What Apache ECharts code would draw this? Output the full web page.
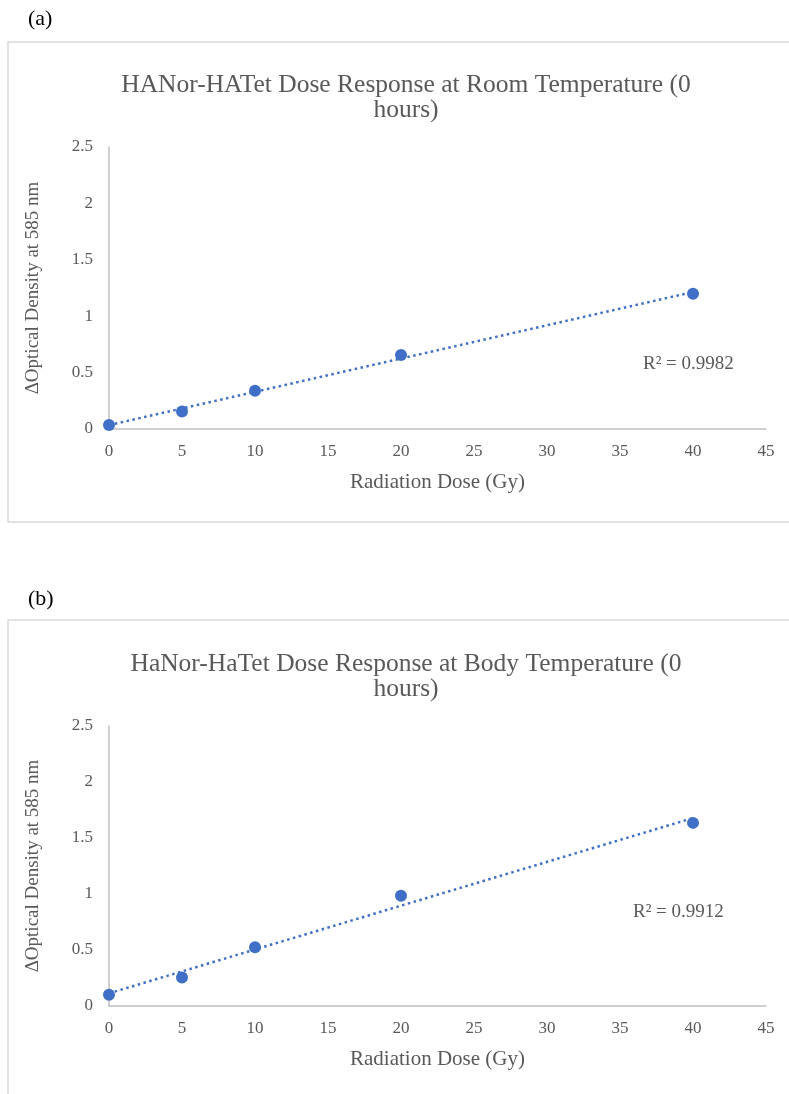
<!DOCTYPE html>
<html>
<head>
<meta charset="utf-8">
<script src="https://cdn.jsdelivr.net/npm/echarts@6/dist/echarts.min.js"></script>
<style>html,body{margin:0;padding:0;background:#fff;}#c{width:789px;height:1094px;}</style>
</head>
<body>
<div id="c"></div>
<script>
// ---- data ----
const doses = [0, 5, 10, 20, 40];
const odRoom = [0.035, 0.155, 0.34, 0.655, 1.2];
const odBody = [0.10, 0.255, 0.525, 0.985, 1.635];
const titleRoom = "HANor-HATet Dose Response at Room Temperature (0\nhours)";
const titleBody = "HaNor-HaTet Dose Response at Body Temperature (0\nhours)";
const r2Room = "R² = 0.9982";
const r2Body = "R² = 0.9912";
const xTicks = [0, 5, 10, 15, 20, 25, 30, 35, 40, 45];
const yTicks = [0, 0.5, 1, 1.5, 2, 2.5];
const xName = "Radiation Dose (Gy)";
const yName = "ΔOptical Density at 585 nm";

function fit(xs, ys) {
  const n = xs.length;
  const mx = xs.reduce((a, b) => a + b, 0) / n;
  const my = ys.reduce((a, b) => a + b, 0) / n;
  let sxy = 0, sxx = 0;
  for (let i = 0; i < n; i++) { sxy += (xs[i] - mx) * (ys[i] - my); sxx += (xs[i] - mx) ** 2; }
  const b = sxy / sxx, a = my - b * mx;
  const x0 = Math.min(...xs), x1 = Math.max(...xs);
  return [[x0, a + b * x0], [x1, a + b * x1]];
}

const FONT = "Liberation Serif";
const GRAY = "#595959";
const BLUE = "#3F6FC6";
const AXC = "#BFBFBF";

function xAxis(gi) {
  return {
    gridIndex: gi, type: 'value', min: xTicks[0], max: xTicks[xTicks.length - 1], interval: 5,
    name: xName, nameLocation: 'middle', nameGap: 43,
    nameTextStyle: { fontFamily: FONT, fontSize: 21, color: GRAY },
    axisLine: { show: true, lineStyle: { color: AXC, width: 1.5 } },
    axisTick: { show: false }, splitLine: { show: false },
    axisLabel: { fontFamily: FONT, fontSize: 17, color: GRAY, margin: 14 }
  };
}
function yAxis(gi) {
  return {
    gridIndex: gi, type: 'value', min: yTicks[0], max: yTicks[yTicks.length - 1], interval: 0.5,
    name: yName, nameLocation: 'middle', nameGap: 66, nameRotate: 90,
    nameTextStyle: { fontFamily: FONT, fontSize: 19, color: GRAY },
    axisLine: { show: true, onZero: false, lineStyle: { color: AXC, width: 1.5 } },
    axisTick: { show: false }, splitLine: { show: false },
    axisLabel: { fontFamily: FONT, fontSize: 17, color: GRAY, margin: 16 }
  };
}
function pts(xs, ys) { return xs.map((x, i) => [x, ys[i]]); }

const chart = echarts.init(document.getElementById('c'), null, { renderer: 'canvas' });
chart.setOption({
  animation: false,
  backgroundColor: '#fff',
  title: [
    { text: titleRoom, left: 401, top: 68, textAlign: 'center',
      textStyle: { fontFamily: FONT, fontSize: 25.5, fontWeight: 'normal', color: GRAY, lineHeight: 25 } },
    { text: titleBody, left: 401, top: 647, textAlign: 'center',
      textStyle: { fontFamily: FONT, fontSize: 25.5, fontWeight: 'normal', color: GRAY, lineHeight: 25 } }
  ],
  grid: [
    { left: 109, top: 147, width: 657, height: 282 },
    { left: 109, top: 726, width: 657, height: 280 }
  ],
  xAxis: [xAxis(0), xAxis(1)],
  yAxis: [yAxis(0), yAxis(1)],
  series: [
    { type: 'line', xAxisIndex: 0, yAxisIndex: 0, data: fit(doses, odRoom), symbol: 'none',
      lineStyle: { color: BLUE, width: 2.5, type: [2.5, 3.5] }, z: 2 },
    { type: 'scatter', xAxisIndex: 0, yAxisIndex: 0, data: pts(doses, odRoom), symbolSize: 12,
      itemStyle: { color: BLUE, opacity: 1 }, z: 3 },
    { type: 'line', xAxisIndex: 1, yAxisIndex: 1, data: fit(doses, odBody), symbol: 'none',
      lineStyle: { color: BLUE, width: 2.5, type: [2.5, 3.5] }, z: 2 },
    { type: 'scatter', xAxisIndex: 1, yAxisIndex: 1, data: pts(doses, odBody), symbolSize: 12,
      itemStyle: { color: BLUE, opacity: 1 }, z: 3 }
  ],
  graphic: [
    { type: 'rect', shape: { x: 8, y: 42, width: 800, height: 480 },
      style: { fill: 'none', stroke: '#D9D9D9', lineWidth: 1.5 }, silent: true },
    { type: 'rect', shape: { x: 8, y: 620, width: 800, height: 490 },
      style: { fill: 'none', stroke: '#D9D9D9', lineWidth: 1.5 }, silent: true },
    { type: 'text', left: 28, top: 8,
      style: { text: '(a)', font: '22px "Liberation Serif"', fill: '#000' } },
    { type: 'text', left: 28, top: 588,
      style: { text: '(b)', font: '22px "Liberation Serif"', fill: '#000' } },
    { type: 'text', left: 643, top: 355,
      style: { text: r2Room, font: '19px "Liberation Serif"', fill: GRAY } },
    { type: 'text', left: 633, top: 903,
      style: { text: r2Body, font: '19px "Liberation Serif"', fill: GRAY } }
  ]
});
</script>
</body>
</html>
